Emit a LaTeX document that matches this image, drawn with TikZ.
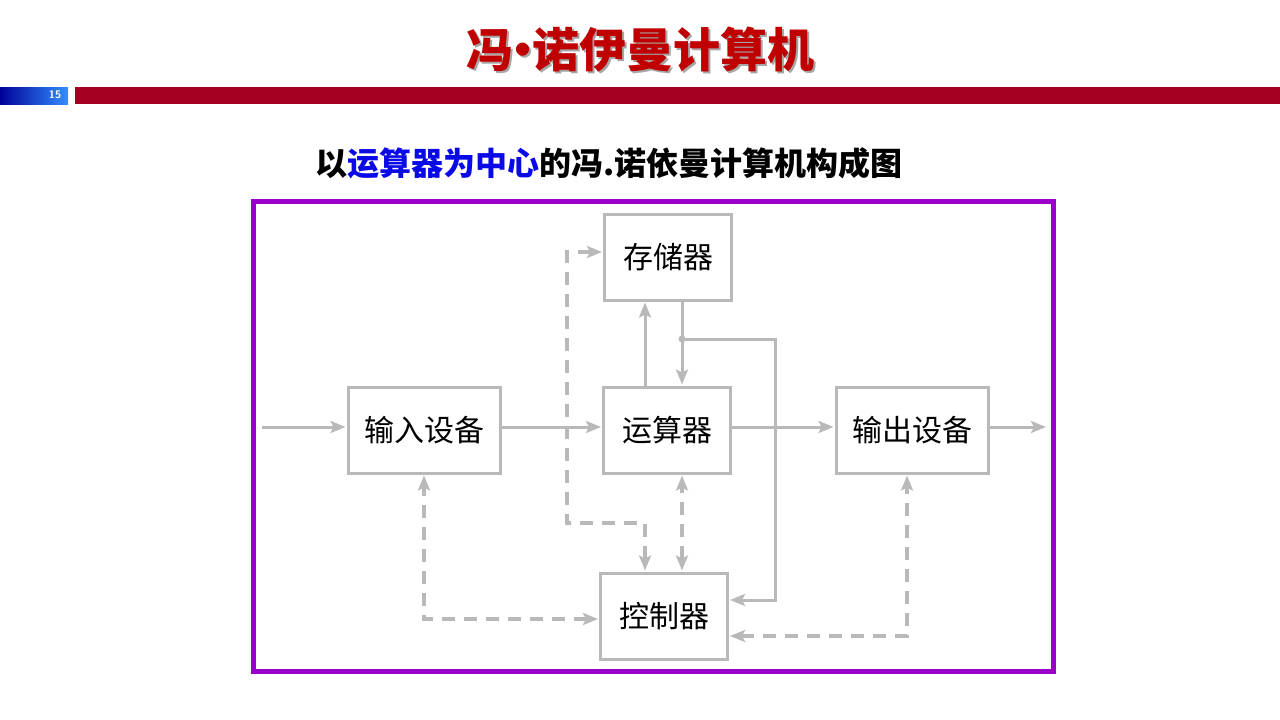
\documentclass[tikz,border=0pt]{standalone}
\usepackage{fontspec}
\newfontfamily\cjk{Noto Sans CJK SC}
\usetikzlibrary{calc,arrows.meta}
\definecolor{lgray}{RGB}{185,185,185}
\definecolor{barred}{RGB}{165,0,33}
\definecolor{titlered}{RGB}{192,0,0}
\definecolor{frame}{RGB}{153,0,204}
\definecolor{hiblue}{RGB}{10,10,230}
\tikzset{
  unit/.style={draw=lgray,line width=3pt,minimum width=127pt,minimum height=86pt,inner sep=0pt,font=\cjk\fontsize{30}{30}\selectfont},
  wideunit/.style={unit,minimum width=152pt},
  flow/.style={draw=lgray,line width=3pt,->,>={Stealth[length=15pt,width=12pt,inset=3pt]},shorten >=1pt},
  ctl/.style={draw=lgray,line width=3.2pt,dash pattern=on 13pt off 9pt,>={Stealth[length=15pt,width=12pt,inset=3pt]},shorten >=1pt,shorten <=1pt}
}
\newcommand{\titletext}{冯\kern-14pt·\kern-14pt诺伊曼计算机}
\begin{document}
\begin{tikzpicture}[x=1pt,y=-1pt]
\useasboundingbox (0,0) rectangle (1280,720);
% header
\node[text=gray!70,font=\cjk\bfseries\fontsize{47}{47}\selectfont] at (642,52) {\titletext};
\node[text=titlered,font=\cjk\bfseries\fontsize{47}{47}\selectfont] (title) at (640,50) {\titletext};
\shade[left color=blue!60!black,right color=blue!55!cyan!80!white] (0,87) rectangle (68,104);
\node[text=white,font=\sffamily\bfseries\fontsize{11}{11}\selectfont] (pageno) at (55,95) {15};
\fill[barred] (75,87) rectangle (1280,104);
\node[font=\cjk\bfseries\fontsize{32}{32}\selectfont] (subtitle) at (609,163) {以\textcolor{hiblue}{运算器为中心}的冯.诺依曼计算机构成图};
\draw[frame,line width=5pt] (253,201) rectangle (1053,671);
% units
\node[unit] (mem) at (668,257) {存储器};
\node[wideunit] (inp) at (424,430) {输入设备};
\node[unit] (alu) at (667,430) {运算器};
\node[wideunit] (outp) at (912,430) {输出设备};
\node[unit] (ctrl) at (664,616) {控制器};
\coordinate (src) at (262,427);
\coordinate (sink) at (1047,427);
\coordinate (jn) at (682,339);
\coordinate (bus) at (775,600);
\coordinate (cb) at (567,523);
% data paths
\draw[flow] (src) -- (src -| inp.west);
\draw[flow] ([yshift=3pt]inp.east) -- ([yshift=3pt]alu.west);
\draw[flow] ([yshift=3pt]alu.east) -- ([yshift=3pt]outp.west);
\draw[flow] ([yshift=3pt]outp.east) -- (sink);
\draw[flow] ([xshift=-22pt]alu.north) -- ([xshift=-23pt]mem.south);
\draw[flow] ([xshift=14pt]mem.south) -- ([xshift=15pt]alu.north);
\draw[flow] (jn) -| (bus) -- (bus -| ctrl.east);
\fill[lgray] (jn) circle (3.5pt);
% control paths
\draw[ctl,<->] ([xshift=-19pt]ctrl.north) |- (cb) |- ([yshift=5pt]mem.west);
\draw[ctl,<->] ([xshift=18pt]ctrl.north) -- ([xshift=18pt]ctrl.north |- alu.south);
\draw[ctl,<->] ([yshift=-3pt]ctrl.west) -| (inp.south);
\draw[ctl,<->] ([yshift=-20pt]ctrl.east) -| ([xshift=-5pt]outp.south);
\end{tikzpicture}
\end{document}
